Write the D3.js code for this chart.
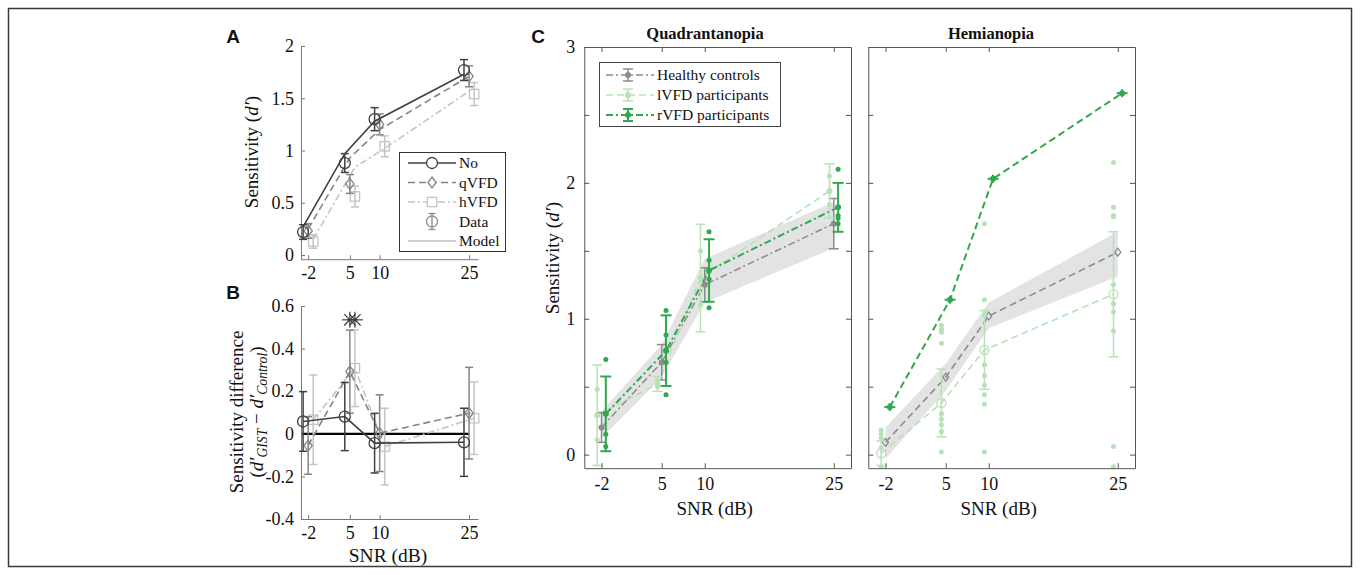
<!DOCTYPE html>
<html><head><meta charset="utf-8">
<script src="https://cdn.jsdelivr.net/npm/d3@7"></script>
<style>body{margin:0;background:#fff;}</style>
</head><body><svg id="c" width="1360" height="575"></svg>
<script>
// ---------- DATA ----------
const snr = [-2, 5, 10, 25];
const snrLabels = ["-2", "5", "10", "25"];
// Panel A: data (mean, sem) and model
const aNoData = [0.22, 0.88, 1.30, 1.77];
const aNoErr  = [0.07, 0.09, 0.11, 0.10];
const aQData  = [0.23, 0.68, 1.25, 1.71];
const aQErr   = [0.07, 0.09, 0.10, 0.10];
const aHData  = [0.13, 0.56, 1.04, 1.54];
const aHErr   = [0.065, 0.10, 0.10, 0.11];
const aNoModel = [0.27, 0.97, 1.28, 1.73];
const aQModel  = [0.25, 0.93, 1.20, 1.71];
const aHModel  = [0.15, 0.84, 1.02, 1.60];
const aLegend = ["No", "qVFD", "hVFD", "Data", "Model"];
const aYTicks = [0, 0.5, 1, 1.5, 2];
// Panel B: differences
const bNo    = [0.058, 0.081, -0.044, -0.040];
const bNoErr = [0.14, 0.16, 0.14, 0.16];
const bQ     = [-0.055, 0.292, 0.003, 0.097];
const bQErr  = [0.135, 0.195, 0.18, 0.215];
const bH     = [0.066, 0.308, -0.060, 0.073];
const bHErr  = [0.21, 0.18, 0.18, 0.17];
const bSig   = 0.535;
const bYTicks = [-0.4, -0.2, 0, 0.2, 0.4, 0.6];
const bYLabels = ["-0.4", "-0.2", "0", "0.2", "0.4", "0.6"];
// Panel C: Quadrantanopia
const qHC    = [0.20, 0.68, 1.25, 1.70];
const qHCErr = [0.11, 0.13, 0.125, 0.185];
const qHCLo  = [0.12, 0.57, 1.12, 1.52];
const qHCHi  = [0.32, 0.81, 1.44, 1.86];
const qL     = [0.29, 0.52, 1.30, 1.94];
const qLErr  = [0.37, 0.055, 0.395, 0.20];
const qLDots = [[0.48, 0.29, 0.11], [0.55, 0.50], [1.50, 1.30, 1.10], [2.05, 1.94, 1.84]];
const qR     = [0.30, 0.765, 1.355, 1.82];
const qRErr  = [0.275, 0.26, 0.23, 0.18];
const qRDots = [[0.70, 0.30, 0.15, 0.06], [1.06, 0.88, 0.68, 0.44], [1.64, 1.43, 1.29, 1.08], [2.10, 1.76, 1.74, 1.70]];
// Panel C: Hemianopia
const hHC    = [0.09, 0.57, 1.02, 1.49];
const hHCLo  = [-0.03, 0.47, 0.93, 1.31];
const hHCHi  = [0.20, 0.67, 1.12, 1.64];
const hL     = [0.01, 0.38, 0.77, 1.18];
const hLErr  = [0.09, 0.25, 0.29, 0.46];
const hLDots = [[0.18, 0.15, 0.12, 0.05, -0.09],
                [0.95, 0.92, 0.90, 0.82, 0.30, 0.26, 0.22, 0.17, 0.02],
                [1.70, 1.14, 1.03, 0.66, 0.58, 0.51, 0.44, 0.37, 0.02],
                [2.15, 1.82, 1.76, 1.75, 1.25, 1.11, 1.05, 0.91, 0.06, -0.09]];
const hR     = [0.35, 1.14, 2.03, 2.66];
const cYTicks = [0, 0.5, 1, 1.5, 2, 2.5, 3];
const cLegend = ["Healthy controls", "lVFD participants", "rVFD participants"];

// ---------- STYLE ----------
const cNo = "#404040", cQ = "#858585", cH = "#c4c4c4";
const cHC = "#8c8c8c", cL = "#b5e3b5", cR = "#2fa84f";
const DASH = "7,4", DASHDOT = "7,3,2,3";
const FONT = '"Liberation Serif", "Times New Roman", serif';
const xLab = d => snrLabels[snr.indexOf(d)];

const svg = d3.select("#c");
svg.append("rect").attr("x", 8.5).attr("y", 8.5).attr("width", 1343).attr("height", 558)
  .attr("fill", "none").attr("stroke", "#3a3a3a").attr("stroke-width", 1.5);

function styleAxis(g, color, fs) {
  g.attr("font-size", fs);
  g.select(".domain").attr("stroke", color).attr("stroke-width", 1);
  g.selectAll(".tick line").attr("stroke", color);
  g.selectAll(".tick text").attr("fill", "#111");
}
function errbar(g, x, y, v, e, cap, color, w) {
  g.append("line").attr("x1", x).attr("x2", x).attr("y1", y(v - e)).attr("y2", y(v + e))
    .attr("stroke", color).attr("stroke-width", w);
  [v - e, v + e].forEach(t => g.append("line").attr("x1", x - cap).attr("x2", x + cap)
    .attr("y1", y(t)).attr("y2", y(t)).attr("stroke", color).attr("stroke-width", w));
}
function marker(g, type, x, y, r, color, fill) {
  if (type === "o") g.append("circle").attr("cx", x).attr("cy", y).attr("r", r)
    .attr("fill", fill || "none").attr("stroke", color).attr("stroke-width", 1.3);
  else if (type === "d") g.append("path").attr("d", `M${x},${y - r}L${x + r * 0.75},${y}L${x},${y + r}L${x - r * 0.75},${y}Z`)
    .attr("fill", fill || "none").attr("stroke", color).attr("stroke-width", 1.3);
  else if (type === "s") g.append("rect").attr("x", x - r * 0.85).attr("y", y - r * 0.85).attr("width", r * 1.7).attr("height", r * 1.7)
    .attr("fill", fill || "none").attr("stroke", color).attr("stroke-width", 1.3);
}
function asterisk(g, x, y, r, color) {
  for (let k = 0; k < 4; k++) {
    const a = k * Math.PI / 4;
    g.append("line").attr("x1", x - r * Math.cos(a)).attr("x2", x + r * Math.cos(a))
      .attr("y1", y - r * Math.sin(a)).attr("y2", y + r * Math.sin(a))
      .attr("stroke", color).attr("stroke-width", 1.1);
  }
}
function ylabelRot(x, y, parts, fs) {
  const t = svg.append("text").attr("transform", `translate(${x},${y}) rotate(-90)`)
    .attr("text-anchor", "middle").attr("dy", "0.35em").attr("font-size", fs).attr("fill", "#111");
  parts.forEach(p => {
    const s = t.append("tspan").text(p.t);
    if (p.i) s.attr("font-style", "italic");
    if (p.sub) s.attr("font-size", fs * 0.72).attr("dy", fs * 0.22);
    if (p.up) s.attr("dy", -fs * 0.22);
  });
  return t;
}

// ---------- PANEL A ----------
const xA = d3.scaleLinear([-3.2, 26.5], [301, 478]);
const yA = d3.scaleLinear([-0.04, 2], [259.2, 46]);
const off = { no: -0.85, q: 0, h: 0.85 };
const gA = svg.append("g");
const axAy = gA.append("g").attr("transform", `translate(${xA.range()[0]},0)`)
  .call(d3.axisLeft(yA).tickValues(aYTicks).tickFormat(d3.format("")).tickSize(-4).tickSizeOuter(0).tickPadding(7));
styleAxis(axAy, "#777", 18);
const axAx = gA.append("g").attr("transform", `translate(0,${yA.range()[0]})`)
  .call(d3.axisBottom(xA).tickValues(snr).tickFormat(xLab).tickSize(-4).tickSizeOuter(0).tickPadding(7));
styleAxis(axAx, "#777", 18);

function aSeries(model, data, err, o, color, dash, mk) {
  const ln = d3.line().x((d, i) => xA(snr[i] + o)).y(d => yA(d));
  gA.append("path").attr("d", ln(model)).attr("fill", "none").attr("stroke", color)
    .attr("stroke-width", 1.6).attr("stroke-dasharray", dash);
  data.forEach((v, i) => {
    errbar(gA, xA(snr[i] + o), yA, v, err[i], 4, color, 1.5);
    marker(gA, mk, xA(snr[i] + o), yA(v), 5.5, color);
  });
}
aSeries(aHModel, aHData, aHErr, off.h, cH, DASHDOT, "s");
aSeries(aQModel, aQData, aQErr, off.q, cQ, DASH, "d");
aSeries(aNoModel, aNoData, aNoErr, off.no, cNo, null, "o");

// legend A
const lgA = gA.append("g");
lgA.append("rect").attr("x", 399.5).attr("y", 152.5).attr("width", 106).attr("height", 99)
  .attr("fill", "#fff").attr("stroke", "#333").attr("stroke-width", 1);
const lgAy = [163, 182.5, 202, 221.5, 241];
const lgAst = [[cNo, null, "o"], [cQ, DASH, "d"], [cH, DASHDOT, "s"]];
lgAst.forEach((s, i) => {
  lgA.append("line").attr("x1", 408).attr("x2", 456).attr("y1", lgAy[i]).attr("y2", lgAy[i])
    .attr("stroke", s[0]).attr("stroke-width", 1.6).attr("stroke-dasharray", s[1]);
  marker(lgA, s[2], 432, lgAy[i], 5.5, s[0], "#fff");
});
errbar(lgA, 432, v => lgAy[3] - v, 0, 8, 3.5, "#8a8a8a", 1.3);
marker(lgA, "o", 432, lgAy[3], 5.5, "#8a8a8a");
lgA.append("line").attr("x1", 408).attr("x2", 456).attr("y1", lgAy[4]).attr("y2", lgAy[4])
  .attr("stroke", "#a0a0a0").attr("stroke-width", 1);
aLegend.forEach((t, i) => lgA.append("text").attr("x", 459).attr("y", lgAy[i]).attr("dy", "0.35em")
  .attr("font-size", 15.5).attr("fill", "#111").text(t));

ylabelRot(251, 152, [{ t: "Sensitivity (" }, { t: "d′", i: 1 }, { t: ")" }], 19);

// ---------- PANEL B ----------
const yB = d3.scaleLinear([-0.4, 0.6], [519, 306]);
const gB = svg.append("g");
const axBy = gB.append("g").attr("transform", `translate(${xA.range()[0]},0)`)
  .call(d3.axisLeft(yB).tickValues(bYTicks).tickFormat((d, i) => bYLabels[i]).tickSize(-4).tickSizeOuter(0).tickPadding(7));
styleAxis(axBy, "#777", 18);
const axBx = gB.append("g").attr("transform", `translate(0,${yB.range()[0]})`)
  .call(d3.axisBottom(xA).tickValues(snr).tickFormat(xLab).tickSize(-4).tickSizeOuter(0).tickPadding(7));
styleAxis(axBx, "#777", 18);
gB.append("line").attr("x1", xA(-3)).attr("x2", xA(25)).attr("y1", yB(0)).attr("y2", yB(0))
  .attr("stroke", "#000").attr("stroke-width", 2.2);
function bSeries(data, err, o, color, dash, mk) {
  const ln = d3.line().x((d, i) => xA(snr[i] + o)).y(d => yB(d));
  gB.append("path").attr("d", ln(data)).attr("fill", "none").attr("stroke", color)
    .attr("stroke-width", 1.6).attr("stroke-dasharray", dash);
  data.forEach((v, i) => {
    errbar(gB, xA(snr[i] + o), yB, v, err[i], 4, color, 1.5);
    marker(gB, mk, xA(snr[i] + o), yB(v), 5.5, color);
  });
}
bSeries(bH, bHErr, off.h, cH, DASHDOT, "s");
bSeries(bQ, bQErr, off.q, cQ, DASH, "d");
bSeries(bNo, bNoErr, off.no, cNo, null, "o");
asterisk(gB, xA(5 + off.q), yB(bSig), 8, "#333");
asterisk(gB, xA(5 + off.h), yB(bSig), 8, "#333");
gB.append("text").attr("x", 388).attr("y", 555).attr("dy", "0.35em").attr("text-anchor", "middle")
  .attr("font-size", 19.5).attr("fill", "#111").text("SNR (dB)");
ylabelRot(236, 412, [{ t: "Sensitivity difference" }], 19);
ylabelRot(256, 412, [{ t: "(" }, { t: "d′", i: 1 }, { t: "GIST", i: 1, sub: 1 }, { t: " − ", up: 1 }, { t: "d′", i: 1 }, { t: "Control", i: 1, sub: 1 }, { t: ")", up: 1 }], 19);

// ---------- PANEL C ----------
const yC = d3.scaleLinear([-0.1, 3], [468.2, 47]);
const xQ = d3.scaleLinear([-4, 27], [584.3, 851]);
const xH = d3.scaleLinear([-4, 27], [868.3, 1135]);
const cOff = { l: -0.5, r: 0.5 };
function boxAxes(x, showY) {
  const g = svg.append("g");
  const [x0, x1] = x.range(), [y0, y1] = yC.range();
  const l = g.append("g").attr("transform", `translate(${x0},0)`)
    .call(d3.axisLeft(yC).tickValues(cYTicks).tickFormat(d => (showY && Number.isInteger(d)) ? d : "").tickSize(-5).tickSizeOuter(0).tickPadding(9));
  styleAxis(l, "#555", 18);
  const r = g.append("g").attr("transform", `translate(${x1},0)`)
    .call(d3.axisRight(yC).tickValues(cYTicks).tickFormat("").tickSize(-5).tickSizeOuter(0));
  styleAxis(r, "#555", 18);
  const b = g.append("g").attr("transform", `translate(0,${y0})`)
    .call(d3.axisBottom(x).tickValues(snr).tickFormat(xLab).tickSize(-5).tickSizeOuter(0).tickPadding(9));
  styleAxis(b, "#555", 18);
  const t = g.append("g").attr("transform", `translate(0,${y1})`)
    .call(d3.axisTop(x).tickValues(snr).tickFormat("").tickSize(-5).tickSizeOuter(0));
  styleAxis(t, "#555", 18);
  svg.append("text").attr("x", (x0 + x1) / 2 - 3).attr("y", 508).attr("dy", "0.35em").attr("text-anchor", "middle")
    .attr("font-size", 19).attr("fill", "#111").text("SNR (dB)");
}
function band(g, x, lo, hi) {
  const ar = d3.area().x((d, i) => x(snr[i])).y0((d, i) => yC(lo[i])).y1(d => yC(d));
  g.append("path").attr("d", ar(hi)).attr("fill", "#e3e3e3").attr("stroke", "none");
}
function cLine(g, x, vals, o, color, w, dash) {
  const ln = d3.line().x((d, i) => x(snr[i] + o)).y(d => yC(d));
  g.append("path").attr("d", ln(vals)).attr("fill", "none").attr("stroke", color)
    .attr("stroke-width", w).attr("stroke-dasharray", dash);
}
// Quadrantanopia
const gQ = svg.append("g");
band(gQ, xQ, qHCLo, qHCHi);
cLine(gQ, xQ, qHC, 0, cHC, 1.5, DASHDOT);
cLine(gQ, xQ, qL, cOff.l, cL, 1.6, DASH);
cLine(gQ, xQ, qR, cOff.r, cR, 2, DASHDOT);
qHC.forEach((v, i) => { errbar(gQ, xQ(snr[i]), yC, v, qHCErr[i], 5, cHC, 1.5);
  gQ.append("circle").attr("cx", xQ(snr[i])).attr("cy", yC(v)).attr("r", 3).attr("fill", cHC); });
qL.forEach((v, i) => { const x = xQ(snr[i] + cOff.l);
  errbar(gQ, x, yC, v, qLErr[i], 5, cL, 1.5);
  qLDots[i].forEach(d => gQ.append("circle").attr("cx", x).attr("cy", yC(d)).attr("r", 2.5).attr("fill", cL));
  gQ.append("circle").attr("cx", x).attr("cy", yC(v)).attr("r", 3).attr("fill", cL); });
qR.forEach((v, i) => { const x = xQ(snr[i] + cOff.r);
  errbar(gQ, x, yC, v, qRErr[i], 5.5, cR, 2);
  qRDots[i].forEach(d => gQ.append("circle").attr("cx", x).attr("cy", yC(d)).attr("r", 2.5).attr("fill", cR));
  gQ.append("circle").attr("cx", x).attr("cy", yC(v)).attr("r", 3).attr("fill", cR); });
boxAxes(xQ, true);
svg.append("text").attr("x", 705).attr("y", 33).attr("dy", "0.35em").attr("text-anchor", "middle")
  .attr("font-size", 16.5).attr("font-weight", "bold").attr("fill", "#111").text("Quadrantanopia");

// Hemianopia
const gH = svg.append("g");
band(gH, xH, hHCLo, hHCHi);
cLine(gH, xH, hHC, 0, cHC, 1.6, DASH);
cLine(gH, xH, hL, cOff.l, cL, 1.6, DASH);
cLine(gH, xH, hR, cOff.r, cR, 2, DASH);
hHC.forEach((v, i) => marker(gH, "d", xH(snr[i]), yC(v), 4, cHC));
hL.forEach((v, i) => { const x = xH(snr[i] + cOff.l);
  errbar(gH, x, yC, v, hLErr[i], 5, cL, 1.5);
  hLDots[i].forEach(d => gH.append("circle").attr("cx", x).attr("cy", yC(d)).attr("r", 2.5).attr("fill", cL));
  marker(gH, "o", x, yC(v), 4.5, cL); });
hR.forEach((v, i) => { const x = xH(snr[i] + cOff.r);
  gH.append("line").attr("x1", x - 5.5).attr("x2", x + 5.5).attr("y1", yC(v)).attr("y2", yC(v)).attr("stroke", cR).attr("stroke-width", 2);
  gH.append("line").attr("x1", x).attr("x2", x).attr("y1", yC(v) - 4).attr("y2", yC(v) + 4).attr("stroke", cR).attr("stroke-width", 2);
  gH.append("circle").attr("cx", x).attr("cy", yC(v)).attr("r", 3).attr("fill", cR); });
boxAxes(xH, false);
svg.append("text").attr("x", 991).attr("y", 33).attr("dy", "0.35em").attr("text-anchor", "middle")
  .attr("font-size", 16.5).attr("font-weight", "bold").attr("fill", "#111").text("Hemianopia");

// legend C
const lgC = svg.append("g");
lgC.append("rect").attr("x", 599.5).attr("y", 62.5).attr("width", 181).attr("height", 64)
  .attr("fill", "#fff").attr("stroke", "#444").attr("stroke-width", 1);
const lgCy = [75, 95, 115];
[[cHC, DASHDOT, 1.5], [cL, DASH, 1.5], [cR, DASHDOT, 2]].forEach((s, i) => {
  lgC.append("line").attr("x1", 606).attr("x2", 654).attr("y1", lgCy[i]).attr("y2", lgCy[i])
    .attr("stroke", s[0]).attr("stroke-width", s[2]).attr("stroke-dasharray", s[1]);
  errbar(lgC, 628, v => lgCy[i] - v, 0, 6, 5, s[0], s[2]);
  lgC.append("circle").attr("cx", 628).attr("cy", lgCy[i]).attr("r", 3).attr("fill", s[0]);
  lgC.append("text").attr("x", 657).attr("y", lgCy[i]).attr("dy", "0.35em").attr("font-size", 15.5)
    .attr("fill", "#111").text(cLegend[i]);
});
ylabelRot(552, 258, [{ t: "Sensitivity (" }, { t: "d′", i: 1 }, { t: ")" }], 19);

// all text serif
svg.selectAll("text").style("font-family", FONT);

// panel letters (sans bold)
[["A", 233, 36], ["B", 233, 292], ["C", 538, 36]].forEach(p =>
  svg.append("text").attr("x", p[1]).attr("y", p[2]).attr("dy", "0.35em").attr("text-anchor", "middle")
    .style("font-family", '"Liberation Sans", Arial, sans-serif').attr("font-weight", "bold")
    .attr("font-size", 19).attr("fill", "#111").text(p[0]));
</script></body></html>
